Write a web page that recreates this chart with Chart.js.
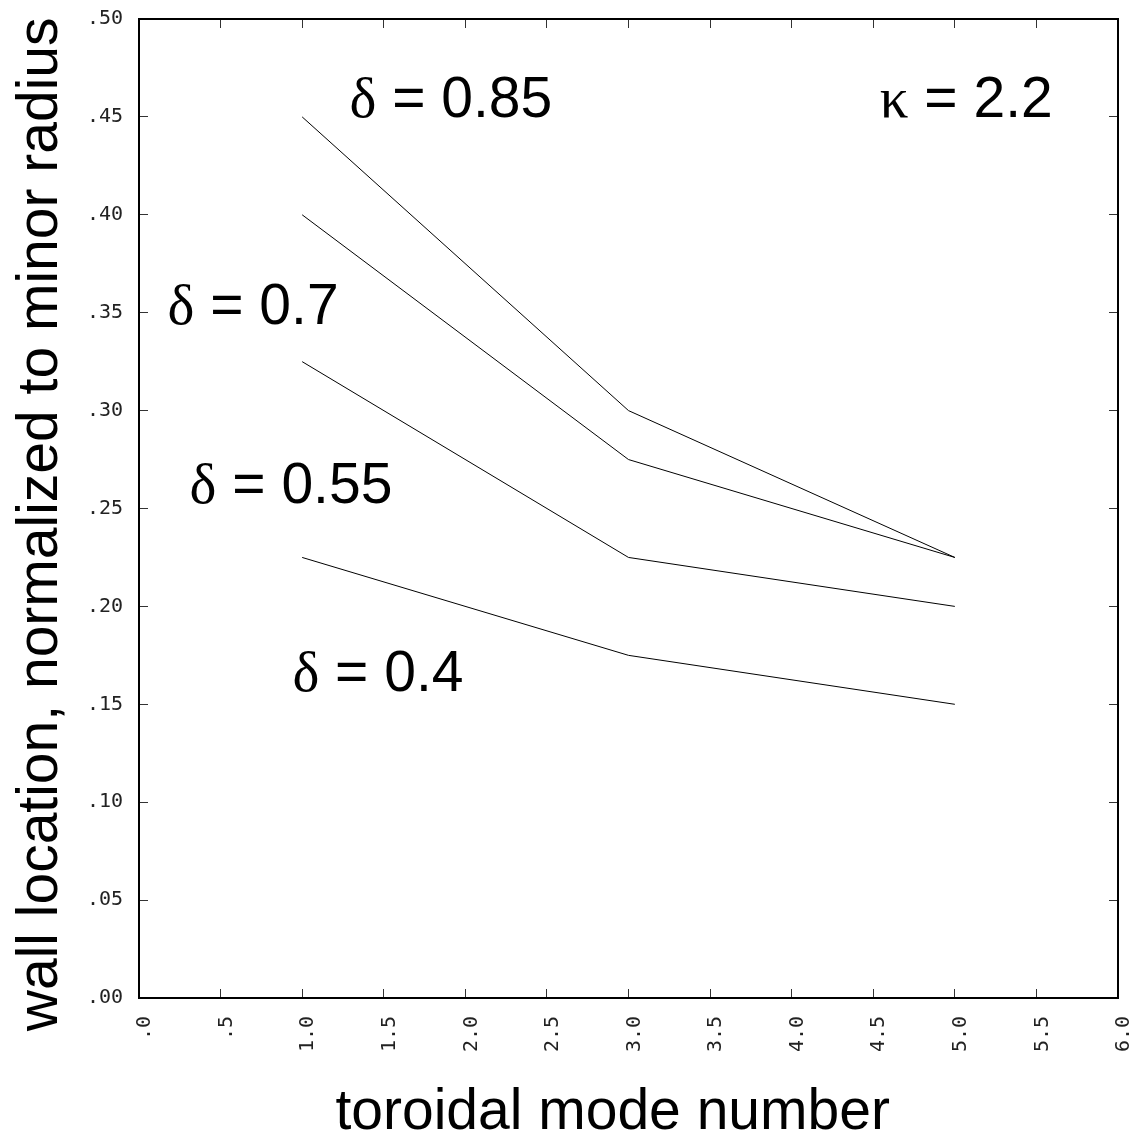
<!doctype html>
<html lang="en">
<head>
<meta charset="utf-8">
<title>wall location vs toroidal mode number</title>
<style>
  html, body { margin: 0; padding: 0; background: #fff; }
  #wrap { width: 1138px; height: 1142px; }
</style>
</head>
<body>
<div id="wrap"><canvas id="wall-chart" width="1138" height="1142"></canvas></div>
<script src="https://cdn.jsdelivr.net/npm/chart.js@4.4.1/dist/chart.umd.min.js"></script>
<script>
// toroidal mode number n
const modeNumbers = [1, 3, 5];
// wall location normalized to minor radius, one series per triangularity
const wallDelta085 = [0.45, 0.30, 0.225];
const wallDelta070 = [0.40, 0.275, 0.225];
const wallDelta055 = [0.325, 0.225, 0.20];
const wallDelta040 = [0.225, 0.175, 0.15];
const seriesNames = ['delta 0.85', 'delta 0.7', 'delta 0.55', 'delta 0.4'];

// tick labels as printed on the plot
const xTickLabels = ['.0', '.5', '1.0', '1.5', '2.0', '2.5', '3.0', '3.5', '4.0', '4.5', '5.0', '5.5', '6.0'];
const yTickLabels = ['.00', '.05', '.10', '.15', '.20', '.25', '.30', '.35', '.40', '.45', '.50'];

// text written inside the frame: greek letter, rest, anchor in data units
const noteGreek = ['δ', 'δ', 'δ', 'δ', 'κ'];
const noteText = [' = 0.85', ' = 0.7', ' = 0.55', ' = 0.4', ' = 2.2'];

const notePos = [
  { x: 1.29, y: 0.450 },
  { x: 0.175, y: 0.344 },
  { x: 0.31, y: 0.253 },
  { x: 0.94, y: 0.157 },
  { x: 4.54, y: 0.450 }
];

function toPoints(ys) {
  return modeNumbers.map((n, i) => ({ x: n, y: ys[i] }));
}

const allSeries = [wallDelta085, wallDelta070, wallDelta055, wallDelta040];
const datasets = allSeries.map((ys, i) => ({
  label: seriesNames[i],
  data: toPoints(ys),
  borderColor: '#000',
  borderWidth: 1,
  pointRadius: 0,
  tension: 0,
  fill: false
}));

const tickFont = { family: 'DejaVu Sans Mono', size: 20 };
const titleFont = { family: 'Liberation Sans', size: 57, lineHeight: 1 };

// draws the delta / kappa labels
const notesPlugin = {
  id: 'notes',
  afterDatasetsDraw(chart) {
    const ctx = chart.ctx;
    const sx = chart.scales.x, sy = chart.scales.y;
    ctx.save();
    ctx.fillStyle = '#000';
    ctx.textBaseline = 'alphabetic';
    ctx.textAlign = 'left';
    for (let i = 0; i < noteText.length; i++) {
      let px = sx.getPixelForValue(notePos[i].x);
      const py = sy.getPixelForValue(notePos[i].y);
      ctx.font = '57px "Liberation Serif"';
      ctx.fillText(noteGreek[i], px, py);
      px += ctx.measureText(noteGreek[i]).width;
      ctx.font = '57px "Liberation Sans"';
      ctx.fillText(noteText[i], px, py);
    }
    ctx.restore();
  }
};

const innerGrid = {
  drawOnChartArea: false,
  drawTicks: true,
  tickLength: -9,
  color: '#333',
  lineWidth: 1
};
const frameBorder = { display: true, color: '#000', width: 2 };

// keep the frame where the original has it, labels may hang over the edges
function noPad(s) {
  s.paddingLeft = 0; s.paddingRight = 0;
  s.paddingTop = 0; s.paddingBottom = 0;
}

new Chart(document.getElementById('wall-chart'), {
  type: 'line',
  data: { datasets: datasets },
  plugins: [notesPlugin],
  options: {
    responsive: false,
    animation: false,
    layout: { padding: { top: 19, right: 20, left: 0, bottom: 0 } },
    plugins: {
      legend: { display: false },
      tooltip: { enabled: false }
    },
    scales: {
      x: {
        type: 'linear',
        position: 'bottom',
        min: 0, max: 6,
        grid: innerGrid,
        border: frameBorder,
        ticks: {
          stepSize: 0.5,
          minRotation: 90, maxRotation: 90,
          padding: 27,
          labelOffset: 6,
          font: tickFont,
          color: '#222',
          callback: (v, i) => xTickLabels[i]
        },
        title: {
          display: true,
          text: 'toroidal mode number  ',
          font: titleFont,
          color: '#000',
          padding: { top: 0, bottom: 0 }
        },
        afterFit: (s) => { s.height = 144; noPad(s); }
      },
      x2: {
        type: 'linear',
        position: 'top',
        min: 0, max: 6,
        grid: innerGrid,
        border: frameBorder,
        ticks: { stepSize: 0.5, display: false },
        afterFit: (s) => { s.height = 0; noPad(s); }
      },
      y: {
        type: 'linear',
        position: 'left',
        min: 0, max: 0.5,
        grid: innerGrid,
        border: frameBorder,
        ticks: {
          stepSize: 0.05,
          padding: 25,
          font: tickFont,
          color: '#222',
          callback: (v, i) => yTickLabels[i]
        },
        title: {
          display: true,
          text: 'wall location, normalized to minor radius  ',
          font: titleFont,
          color: '#000',
          padding: { top: 13, bottom: 0 }
        },
        afterFit: (s) => { s.width = 139; noPad(s); }
      },
      y2: {
        type: 'linear',
        position: 'right',
        min: 0, max: 0.5,
        grid: innerGrid,
        border: frameBorder,
        ticks: { stepSize: 0.05, display: false },
        afterFit: (s) => { s.width = 0; noPad(s); }
      }
    }
  }
});
</script>
</body>
</html>
